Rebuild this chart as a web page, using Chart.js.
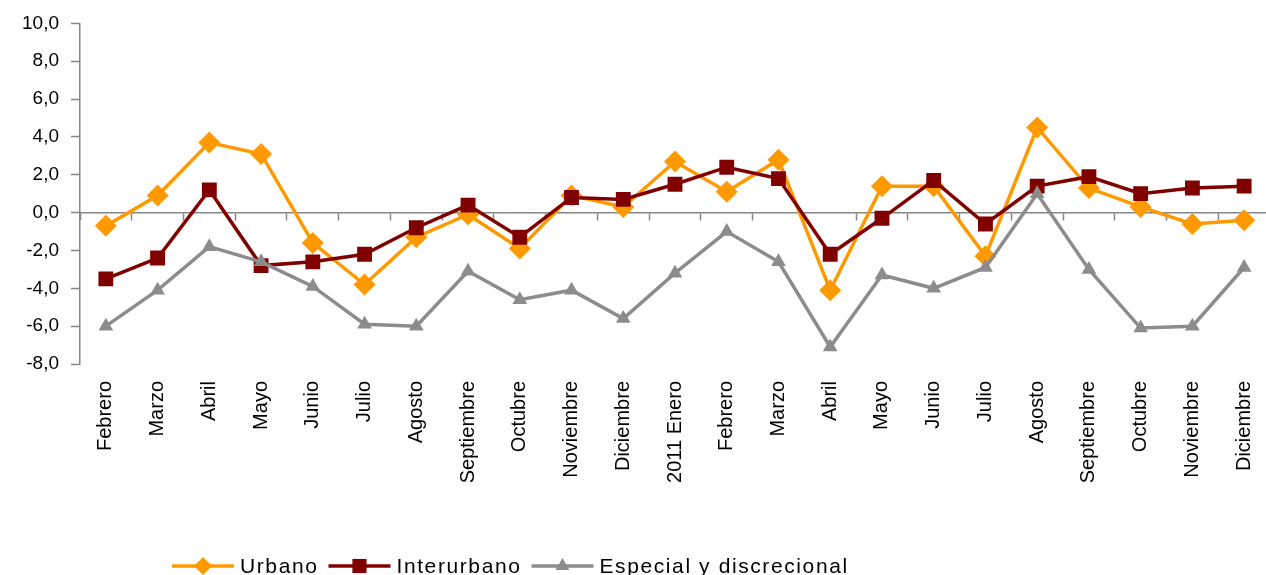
<!DOCTYPE html>
<html>
<head>
<meta charset="utf-8">
<script src="https://cdn.jsdelivr.net/npm/chart.js@4/dist/chart.umd.min.js"></script>
<style>
  html, body { margin: 0; padding: 0; background: #fff; overflow: hidden; }
  #wrap { position: relative; width: 1281px; height: 575px; }
</style>
</head>
<body>
<div id="wrap"><canvas id="chart"></canvas></div>
<script>
"use strict";

const months = [
  "Febrero", "Marzo", "Abril", "Mayo", "Junio", "Julio", "Agosto",
  "Septiembre", "Octubre", "Noviembre", "Diciembre", "2011 Enero",
  "Febrero", "Marzo", "Abril", "Mayo", "Junio", "Julio", "Agosto",
  "Septiembre", "Octubre", "Noviembre", "Diciembre",
];

const urbano = [-0.7, 0.9, 3.7, 3.1, -1.6, -3.8, -1.3, -0.1, -1.9, 0.9, 0.3, 2.7,
  1.1, 2.8, -4.1, 1.4, 1.4, -2.3, 4.5, 1.3, 0.3, -0.6, -0.4];
const interurbano = [-3.5, -2.4, 1.2, -2.8, -2.6, -2.2, -0.8, 0.4, -1.3, 0.8, 0.7, 1.5,
  2.4, 1.8, -2.2, -0.3, 1.7, -0.6, 1.4, 1.9, 1.0, 1.3, 1.4];
const especial = [-6.0, -4.1, -1.8, -2.6, -3.9, -5.9, -6.0, -3.1, -4.6, -4.1, -5.6, -3.2,
  -1.0, -2.6, -7.1, -3.3, -4.0, -2.9, 1.0, -3.0, -6.1, -6.0, -2.9];

const yMin = -8;
const yMax = 10;
const yStep = 2;

const FONT = "'Liberation Sans', Arial, sans-serif";
const AXIS_GREY = "#868686";

// legend drawn like the Excel one: line with the marker in the middle
const excelLegend = {
  id: "excelLegend",
  afterDraw(chart) {
    const ctx = chart.ctx;
    const y = 566;
    let x = 172;
    ctx.save();
    ctx.font = "21px " + FONT;
    ctx.letterSpacing = "1.6px";
    ctx.textBaseline = "middle";
    chart.data.datasets.forEach((ds) => {
      ctx.strokeStyle = ds.borderColor;
      ctx.lineWidth = 3.5;
      ctx.beginPath();
      ctx.moveTo(x, y);
      ctx.lineTo(x + 62, y);
      ctx.stroke();
      ctx.fillStyle = ds.backgroundColor;
      ctx.strokeStyle = ds.backgroundColor;
      Chart.helpers.drawPoint(ctx, {
        pointStyle: ds.pointStyle,
        radius: ds.legendRadius,
        rotation: 0,
        borderWidth: 0,
      }, x + 31, y);
      x += 68;
      ctx.fillStyle = "#000";
      ctx.fillText(ds.label, x, y + 1);
      x += ctx.measureText(ds.label).width + 10;
    });
    ctx.restore();
  },
};

const ctx = document.getElementById("chart");

new Chart(ctx, {
  type: "line",
  data: {
    labels: months,
    datasets: [
      {
        label: "Urbano",
        data: urbano,
        borderColor: "#FF9900",
        backgroundColor: "#FF9900",
        borderWidth: 3.5,
        pointStyle: "rectRot",
        pointRadius: 11,
        pointBorderWidth: 0,
        legendRadius: 9,
        order: 3,
      },
      {
        label: "Interurbano",
        data: interurbano,
        borderColor: "#800000",
        backgroundColor: "#800000",
        borderWidth: 3.5,
        pointStyle: "rect",
        pointRadius: 10.5,
        pointBorderWidth: 0,
        legendRadius: 10,
        order: 2,
      },
      {
        label: "Especial y discrecional",
        data: especial,
        borderColor: "#8C8C8C",
        backgroundColor: "#8C8C8C",
        borderWidth: 3.5,
        pointStyle: "triangle",
        pointRadius: 8.5,
        pointBorderWidth: 0,
        legendRadius: 8,
        order: 1,
      },
    ],
  },
  options: {
    responsive: true,
    maintainAspectRatio: false,
    animation: false,
    layout: {
      padding: { top: 23, right: 0, bottom: 0, left: 0 },
    },
    elements: {
      line: { tension: 0 },
    },
    scales: {
      // category axis crossing at 0, only the line and tick marks
      x: {
        type: "category",
        position: { y: 0 },
        offset: true,
        border: { display: true, color: AXIS_GREY, width: 1.5 },
        grid: {
          offset: true,
          drawOnChartArea: false,
          drawTicks: true,
          tickLength: 7,
          tickWidth: 1.5,
          color: AXIS_GREY,
        },
        ticks: { display: false },
      },
      // labels at the bottom of the plot
      x2: {
        type: "category",
        position: "bottom",
        offset: true,
        border: { display: false },
        grid: { display: false },
        ticks: {
          autoSkip: false,
          minRotation: 90,
          maxRotation: 90,
          padding: 9,
          color: "#000",
          font: { family: FONT, size: 20 },
        },
        afterFit: (scale) => {
          scale.height = 211;
        },
      },
      y: {
        min: yMin,
        max: yMax,
        border: { display: true, color: AXIS_GREY, width: 1.5 },
        grid: {
          drawOnChartArea: false,
          drawTicks: true,
          tickLength: 9,
          tickWidth: 1.5,
          color: AXIS_GREY,
        },
        ticks: {
          stepSize: yStep,
          padding: 12,
          color: "#000",
          font: { family: FONT, size: 19 },
          callback: (v) => v.toFixed(1).replace(".", ","),
        },
        afterFit: (scale) => {
          scale.width = 80;
        },
      },
    },
    plugins: {
      legend: { display: false },
      tooltip: { enabled: false },
    },
  },
  plugins: [excelLegend],
});
</script>
</body>
</html>
